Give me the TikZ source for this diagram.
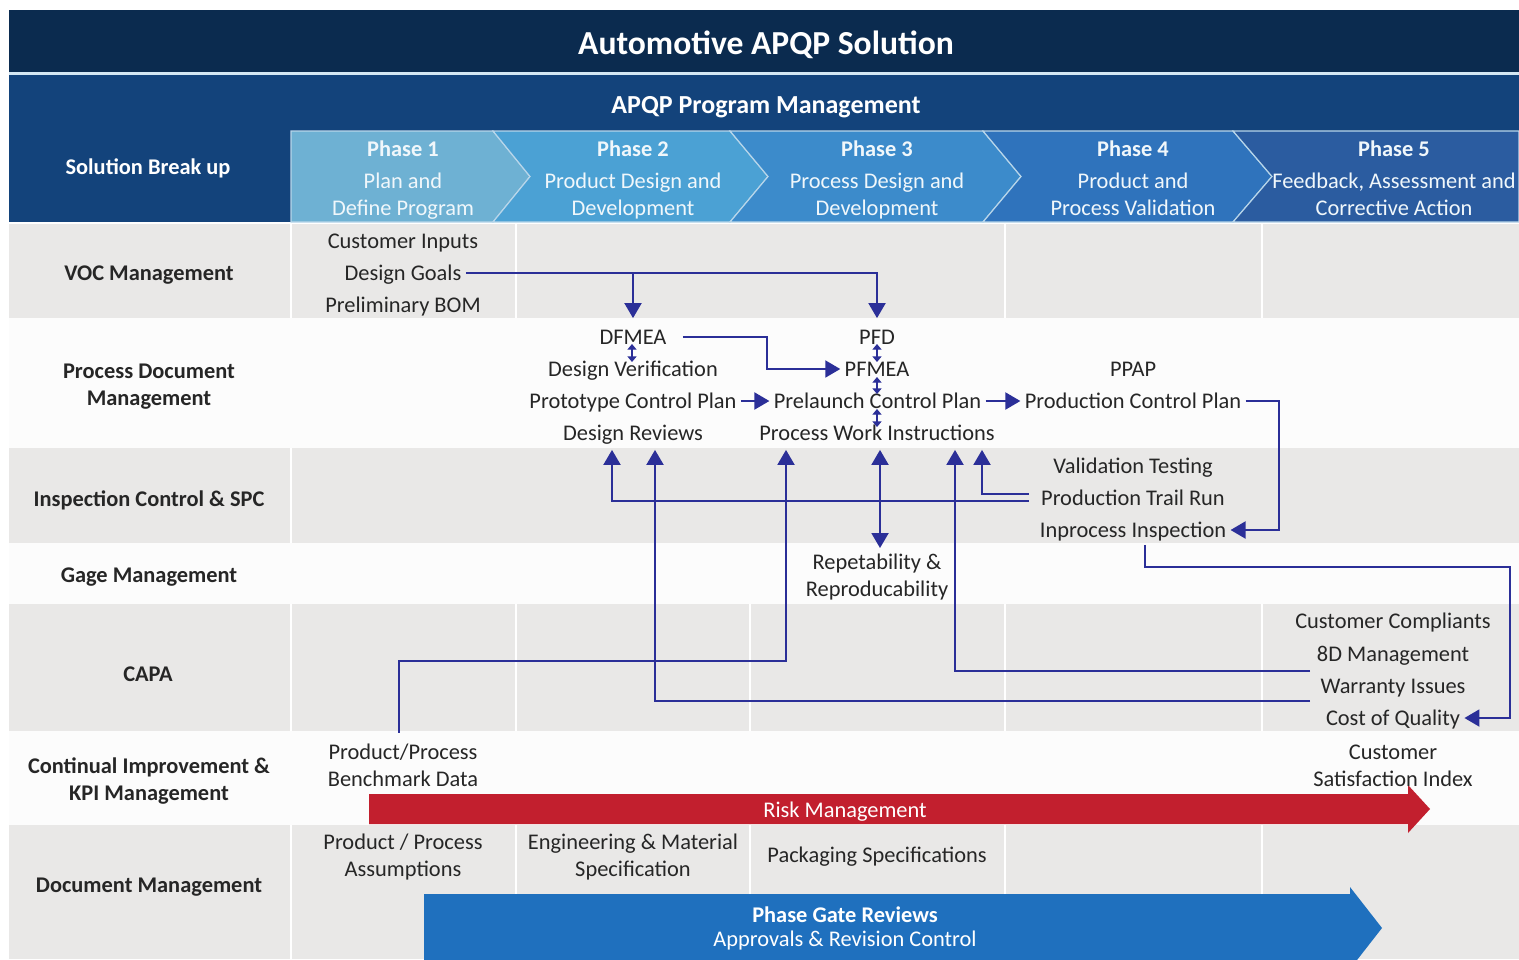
\documentclass[tikz,border=0pt]{standalone}
\usepackage{fontspec}
\setmainfont{Carlito}
\usetikzlibrary{arrows.meta,calc}
\definecolor{navy}{HTML}{0B2B4F}
\definecolor{band}{HTML}{13437B}
\definecolor{ph1}{HTML}{6EB1D3}
\definecolor{ph2}{HTML}{4BA1D4}
\definecolor{ph3}{HTML}{3C8BCB}
\definecolor{ph4}{HTML}{2F73BC}
\definecolor{ph5}{HTML}{2B5CA0}
\definecolor{rowgray}{HTML}{E9E8E7}
\definecolor{rowwhite}{HTML}{FCFCFC}
\definecolor{conncol}{HTML}{2B2F98}
\definecolor{txt}{HTML}{262626}
\definecolor{riskred}{HTML}{C21F2E}
\definecolor{gateblue}{HTML}{1F70BE}
\definecolor{edge}{HTML}{B8D6EA}
\tikzset{
 textbase/.style={font=\fontsize{11.2}{13.5}\selectfont, text=txt, inner sep=2pt, align=center},
 body/.style={textbase, yshift=-1pt},
 item/.style={textbase, text height=9pt, text depth=1.5pt},
 rowlabel/.style={font=\fontsize{11.2}{13.5}\selectfont\bfseries, text=txt, align=center, yshift=-1pt},
 phasetxt/.style={font=\fontsize{11.2}{13.5}\selectfont, text=white!90!ph1, align=center},
 conn/.style={draw=conncol, line width=1pt, -{Triangle[length=7.5pt,width=8.5pt]}},
 conn2/.style={draw=conncol, line width=1pt, {Triangle[length=7.5pt,width=8.5pt]}-{Triangle[length=7.5pt,width=8.5pt]}},
 dbl/.style={draw=conncol, line width=0.6pt, {Triangle[length=2.8pt,width=4.5pt]}-{Triangle[length=2.8pt,width=4.5pt]}},
 sep/.style={draw=white, line width=1pt},
 chev/.style={draw=edge, line width=0.6pt},
}
\begin{document}
\begin{tikzpicture}[x=0.5pt,y=-0.5pt]
\useasboundingbox (0,0) rectangle (1519,959);
\clip (0,0) rectangle (1519,959);
\fill[white] (0,0) rectangle (1519,959);
% header bars
\fill[navy] (9,10) rectangle (1519,72);
\fill[edge!60!white] (9,72) rectangle (1519,75);
\fill[band] (9,75) rectangle (1519,222);
% rows
\fill[rowgray] (9,224) rectangle (1519,318);
\fill[rowwhite] (9,318) rectangle (1519,448);
\fill[rowgray] (9,448) rectangle (1519,543);
\fill[rowwhite] (9,543) rectangle (1519,604);
\fill[rowgray] (9,604) rectangle (1519,731);
\fill[rowwhite] (9,731) rectangle (1519,825);
\fill[rowgray] (9,825) rectangle (1519,959);
% separators
\foreach \x in {291,516,1005,1262} \draw[sep] (\x,224) -- (\x,318);
\draw[sep] (291,448) -- (291,543);
\foreach \x in {291,516,750,1005,1262} \draw[sep] (\x,604) -- (\x,731);
\foreach \x in {291,516,750,1005,1262} \draw[sep] (\x,825) -- (\x,959);
% chevrons
\filldraw[fill=ph1,chev] (291,131) -- (493,131) -- (530,176.5) -- (493,222) -- (291,222) -- cycle;
\filldraw[fill=ph2,chev] (493,131) -- (730,131) -- (768,176.5) -- (730,222) -- (493,222) -- (530,176.5) -- cycle;
\filldraw[fill=ph3,chev] (730,131) -- (983,131) -- (1021,176.5) -- (983,222) -- (730,222) -- (768,176.5) -- cycle;
\filldraw[fill=ph4,chev] (983,131) -- (1233,131) -- (1272,176.5) -- (1233,222) -- (983,222) -- (1021,176.5) -- cycle;
\filldraw[fill=ph5,chev] (1233,131) -- (1519,131) -- (1519,222) -- (1233,222) -- (1272,176.5) -- cycle;
% big arrows
\fill[riskred] (369,794) -- (1408,794) -- (1408,785) -- (1430,809) -- (1408,833) -- (1408,824) -- (369,824) -- cycle;
\fill[gateblue] (424,894) -- (1350,894) -- (1350,887) -- (1382,928) -- (1350,969) -- (1350,962) -- (424,962) -- cycle;
% header texts
\node[font=\fontsize{16.8}{20}\selectfont\bfseries, text=white] (title) at (766,45) {Automotive APQP Solution};
\node[font=\fontsize{13}{15}\selectfont\bfseries, text=white] (pm) at (766,107) {APQP Program Management};
\node[rowlabel, text=white] (sbu) at (148,166) {Solution Break up};
\node[phasetxt] (p1) at (403,180) {\textbf{Phase 1}\\[2.5pt]Plan and\\Define Program\vphantom{g}};
\node[phasetxt] (p2) at (633,180) {\textbf{Phase 2}\\[2.5pt]Product Design and\\Development\vphantom{g}};
\node[phasetxt] (p3) at (877,180) {\textbf{Phase 3}\\[2.5pt]Process Design and\\Development\vphantom{g}};
\node[phasetxt] (p4) at (1133,180) {\textbf{Phase 4}\\[2.5pt]Product and\\Process Validation\vphantom{g}};
\node[phasetxt] (p5) at (1394,180) {\textbf{Phase 5}\\[2.5pt]Feedback, Assessment and\\Corrective Action\vphantom{g}};
% row labels
\node[rowlabel] (l1) at (149,273) {VOC Management};
\node[rowlabel] (l2) at (149,385) {Process Document\\Management};
\node[rowlabel] (l3) at (149,498) {Inspection Control \& SPC};
\node[rowlabel] (l4) at (149,575) {Gage Management};
\node[rowlabel] (l5) at (148,672) {CAPA};
\node[rowlabel] (l6) at (149,779) {Continual Improvement \&\\KPI Management};
\node[rowlabel] (l7) at (149,885) {Document Management};
% VOC
\node[item] (ci) at (403,241) {Customer Inputs};
\node[item] (dg) at (403,273) {Design Goals};
\node[item] (pb) at (403,305) {Preliminary BOM};
% process documents
\node[item] (dfmea) at (633,337) {DFMEA};
\node[item] (dv) at (633,369) {Design Verification};
\node[item] (proto) at (633,401) {Prototype Control Plan};
\node[item] (dr) at (633,433) {Design Reviews};
\node[item] (pfd) at (877,337) {PFD};
\node[item] (pfmea) at (877,369) {PFMEA};
\node[item] (pre) at (877.5,401) {Prelaunch Control Plan};
\node[item] (pwi) at (877,433) {Process Work Instructions};
\node[item] (ppap) at (1133,369) {PPAP};
\node[item] (pcp) at (1133,401) {Production Control Plan};
% inspection
\node[item] (vt) at (1133,466) {Validation Testing};
\node[item] (ptr) at (1133,498) {Production Trail Run};
\node[item] (inproc) at (1133,530) {Inprocess Inspection};
% gage
\node[body] (rr) at (877,575.5) {Repetability \&\\Reproducability};
% CAPA
\node[item] (cc) at (1393,621) {Customer Compliants};
\node[item] (d8) at (1393,654) {8D Management};
\node[item] (wi) at (1393,686) {Warranty Issues};
\node[item] (coq) at (1393,718) {Cost of Quality};
% continual improvement
\node[body] (bm) at (403,763.5) {Product/Process\\Benchmark Data};
\node[body] (csi) at (1393,763.5) {Customer\\Satisfaction Index};
\node[body, text=white] (risk) at (845,810) {Risk Management};
% document management
\node[body] (ppa) at (403,855.5) {Product / Process\\Assumptions};
\node[body] (ems) at (633,855.5) {Engineering \& Material\\Specification};
\node[item] (pks) at (877,855) {Packaging Specifications};
\node[font=\fontsize{11.2}{12}\selectfont, text=white, align=center] (gate) at (845,928) {\textbf{Phase Gate Reviews}\\Approvals \& Revision Control};
% connectors
\draw[conn] (dg.east) -| ([yshift=2pt]pfd.north);
\draw[conn] (dg.east -| dfmea.north) -- ([yshift=2pt]dfmea.north);
\draw[conn] ([xshift=6pt]dfmea.east) -- ++(84,0) |- (pfmea.west);
\draw[conn] (proto.east) -- (pre.west);
\draw[conn] (pre.east) -- (pcp.west);
\draw[conn] (pcp.east) -- ++(33,0) |- (inproc.east);
\draw[conn] ([xshift=-4pt,yshift=2pt]ptr.west) -| ([xshift=52.5pt,yshift=-1pt]pwi.south);
\draw[conn] ([xshift=-4pt,yshift=-1.5pt]ptr.west) -| ([xshift=-10.5pt,yshift=-1pt]dr.south);
\draw[conn2] ([xshift=1.5pt,yshift=-1pt]pwi.south) -- ([xshift=1.5pt,yshift=1pt]rr.north);
\draw[conn] ([xshift=-3pt]wi.north west) -| ([xshift=39pt,yshift=-1pt]pwi.south);
\draw[conn] ([xshift=-3pt]wi.south west) -| ([xshift=11pt,yshift=-1pt]dr.south);
\draw[conn] ([xshift=-2pt,yshift=3.5pt]bm.north) -- ++(0,-72) -| ([xshift=-45.5pt,yshift=-1pt]pwi.south);
\draw[conn] ([xshift=6pt]inproc.south) -- ++(0,22) -- ++(365,0) |- (coq.east);
\draw[dbl] ($(dfmea.center)+(-1,7)$) -- ($(dv.center)+(-1,-7)$);
\draw[dbl] ($(pfd.center)+(0,7)$) -- ($(pfmea.center)+(0,-7)$);
\draw[dbl] ($(pfmea.center)+(0,8)$) -- ($(pre.center)+(-0.5,-7)$);
\draw[dbl] ($(pre.center)+(-0.5,8)$) -- ($(pwi.center)+(0,-6)$);
\end{tikzpicture}
\end{document}
